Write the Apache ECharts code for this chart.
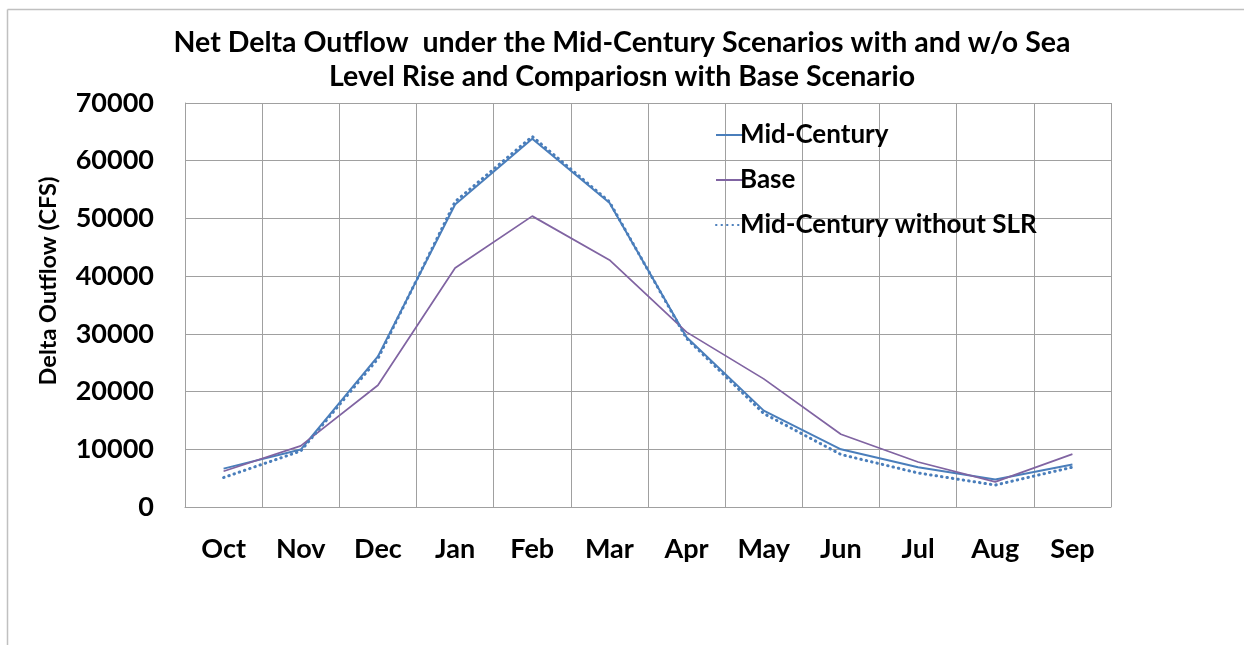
<!DOCTYPE html>
<html>
<head>
<meta charset="utf-8">
<script src="https://cdn.jsdelivr.net/npm/echarts@6/dist/echarts.min.js"></script>
<style>
  html, body {margin: 0; padding: 0; background: #fff;}
  #contain {width: 1244px; height: 645px;}
</style>
</head>
<body>
<div id="contain"></div>
<script>
var months = ['Oct', 'Nov', 'Dec', 'Jan', 'Feb', 'Mar', 'Apr', 'May', 'Jun', 'Jul', 'Aug', 'Sep'];
var midCentury = [6650, 9950, 26100, 52400, 63800, 52700, 29400, 16700, 10000, 6900, 4750, 7350];
var base = [6200, 10600, 21100, 41400, 50400, 42800, 30300, 22200, 12600, 7800, 4350, 9150];
var midNoSLR = [5100, 9700, 25700, 52900, 64200, 52900, 29200, 16200, 9100, 5900, 3800, 6900];
var yTicks = [0, 10000, 20000, 30000, 40000, 50000, 60000, 70000];

var font = 'Lato, "Open Sans", sans-serif';
var gridColor = '#a0a0a0';

var myChart = echarts.init(document.getElementById('contain'));
var option = {
    animation: false,
    backgroundColor: '#ffffff',
    title: {
        text: 'Net Delta Outflow  under the Mid-Century Scenarios with and w/o Sea\nLevel Rise and Compariosn with Base Scenario',
        left: 'center',
        top: 21,
        textStyle: {fontFamily: font, fontWeight: 'bold', fontSize: 28.5, lineHeight: 34, color: '#000'}
    },
    legend: {
        orient: 'vertical',
        left: 710,
        top: 117,
        itemWidth: 28,
        itemHeight: 14,
        itemGap: 19,
        itemStyle: {opacity: 0},
        textStyle: {fontFamily: font, fontWeight: 'bold', fontSize: 26, color: '#000', padding: [0, 0, 0, -9]},
        data: ['Mid-Century', 'Base', 'Mid-Century without SLR']
    },
    grid: {left: 185, right: 133, top: 103, bottom: 138},
    xAxis: {
        type: 'category',
        data: months,
        boundaryGap: true,
        axisTick: {show: false},
        axisLine: {show: true, lineStyle: {color: gridColor, width: 1}},
        splitLine: {show: true, interval: 0, lineStyle: {color: gridColor, width: 1}},
        axisLabel: {interval: 0, margin: 29, fontFamily: font, fontWeight: 'bold', fontSize: 27, color: '#000'}
    },
    yAxis: {
        type: 'value',
        min: yTicks[0],
        max: yTicks[yTicks.length - 1],
        interval: 10000,
        axisTick: {show: false},
        axisLine: {show: true, lineStyle: {color: gridColor, width: 1}},
        splitLine: {show: true, lineStyle: {color: gridColor, width: 1}},
        axisLabel: {
            margin: 31,
            fontFamily: font,
            fontWeight: 'bold',
            fontSize: 27,
            color: '#000',
            formatter: function (v) { return String(v); }
        }
    },
    graphic: [
        {type: 'line', shape: {x1: 7.5, y1: 9.5, x2: 1244, y2: 9.5}, style: {stroke: '#c0c0c0', lineWidth: 1.5}},
        {type: 'line', shape: {x1: 7.5, y1: 9.5, x2: 7.5, y2: 645}, style: {stroke: '#c0c0c0', lineWidth: 1.5}},
        {
            type: 'text',
            x: 48,
            y: 281,
            rotation: Math.PI / 2,
            style: {
                text: 'Delta Outflow (CFS)',
                fontFamily: font,
                fontWeight: 'bold',
                fontSize: 23.5,
                fill: '#000',
                align: 'center',
                verticalAlign: 'middle'
            }
        }
    ],
    series: [
        {
            name: 'Mid-Century',
            type: 'line',
            data: midCentury,
            symbol: 'none',
            lineStyle: {color: '#4a7ebb', width: 2},
            itemStyle: {color: '#4a7ebb'}
        },
        {
            name: 'Base',
            type: 'line',
            data: base,
            symbol: 'none',
            lineStyle: {color: '#8064a2', width: 1.75},
            itemStyle: {color: '#8064a2'}
        },
        {
            name: 'Mid-Century without SLR',
            type: 'line',
            data: midNoSLR,
            symbol: 'none',
            lineStyle: {color: '#4a7ebb', width: 3, type: [0.5, 5], cap: 'round'},
            itemStyle: {color: '#4a7ebb'}
        }
    ]
};
myChart.setOption(option, true);
</script>
</body>
</html>
